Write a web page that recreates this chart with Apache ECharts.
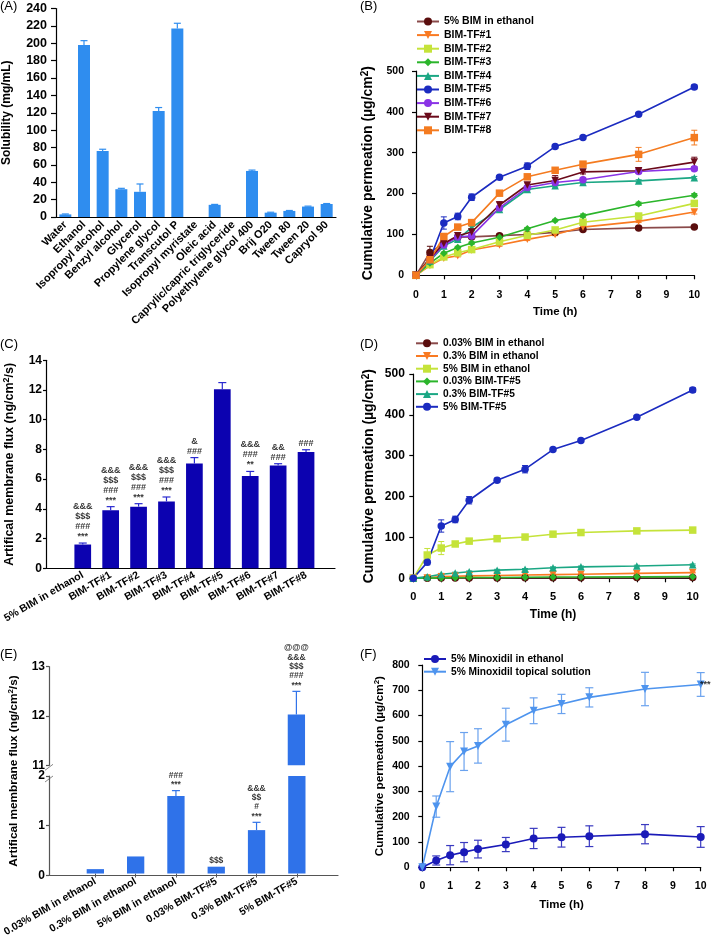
<!DOCTYPE html>
<html><head><meta charset="utf-8">
<script src="https://cdn.jsdelivr.net/npm/echarts@6/dist/echarts.min.js"></script>
<style>html,body{margin:0;padding:0;background:#fff}#c{width:720px;height:939px}</style>
</head><body><div id="c"></div><script>
// ---------- DATA ----------
// Panel A
const solventNames = ['Water','Ethanol','Isopropyl alcohol','Benzyl alcohol','Glycerol','Propylene glycol','Transcutol P','Isopropyl myristate','Oleic acid','Caprylic/capric triglyceride','Polyethylene glycol 400','Brij O20','Tween 80','Tween 20','Capryol 90'];
const solubility    = [3,198,76,32,29,122,217,0,14,0,53,5,7,12,15];
const solubilityErr = [0.5,5,2,1,9,4,6,0,0.5,0,1,0.5,0.5,0.5,0.5];
const solubilityTicks = [0,240,20];

// Panel B
const times = [0,0.5,1,1.5,2,3,4,5,6,8,10];
const bNames = ['5% BIM in ethanol','BIM-TF#1','BIM-TF#2','BIM-TF#3','BIM-TF#4','BIM-TF#5','BIM-TF#6','BIM-TF#7','BIM-TF#8'];
const bBimEth = [0,56,78,93,94,97,100,105,112,116,118];
const bTf1 = [0,24,42,48,62,74,88,100,118,132,155];
const bTf2 = [0,26,45,55,63,82,98,111,130,145,176];
const bTf3 = [0,30,54,68,79,93,114,134,146,175,196];
const bTf4 = [0,35,72,88,117,161,210,219,227,231,239];
const bTf5 = [0,39,128,144,191,240,267,315,337,394,461];
const bTf6 = [0,38,74,94,96,165,215,227,234,254,261];
const bTf7 = [0,42,78,97,106,172,221,232,253,256,277];
const bTf8 = [0,38,95,118,129,201,241,257,272,296,337];
const bErrBimEth = [0,15,4,4,3,4,3,3,4,4,3];
const bErrTf1 = [0,2,3,3,3,3,3,3,3,3,5];
const bErrTf2 = [0,2,3,3,3,3,3,3,3,3,4];
const bErrTf3 = [0,2,3,3,3,3,3,3,4,4,4];
const bErrTf4 = [0,2,3,3,3,3,3,3,3,3,3];
const bErrTf5 = [0,5,15,8,8,4,8,4,3,3,5];
const bErrTf6 = [0,3,3,3,3,4,4,4,4,5,5];
const bErrTf7 = [0,3,3,3,3,8,5,12,5,5,12];
const bErrTf8 = [0,4,4,4,4,4,5,5,5,17,18];

// Panel C
const cNames = ['5% BIM in ethanol','BIM-TF#1','BIM-TF#2','BIM-TF#3','BIM-TF#4','BIM-TF#5','BIM-TF#6','BIM-TF#7','BIM-TF#8'];
const cFlux = [1.6,3.9,4.15,4.5,7.05,12.05,6.22,6.92,7.83];
const cErr  = [0.1,0.25,0.2,0.3,0.4,0.45,0.3,0.12,0.15];
const cSig  = ['&&&\n$$$\n###\n***','&&&\n$$$\n###\n***','&&&\n$$$\n###\n***','&&&\n$$$\n###\n***','&\n###','','&&&\n###\n**','&&\n###','###'];

// Panel D
const dNames = ['0.03% BIM in ethanol','0.3% BIM in ethanol','5% BIM in ethanol','0.03% BIM-TF#5','0.3% BIM-TF#5','5% BIM-TF#5'];
const d003Eth = [0,0.3,0.5,0.6,0.8,1,1.2,1.4,1.5,1.7,2];
const d03Eth  = [0,1,4,5,6,7,8,9,10,12,14];
const d5Eth   = [0,57,74,84,91,97,101,108,112,116,118];
const d003Tf  = [0,0.5,1,1.5,2,2,2.5,3,3,3.5,4];
const d03Tf   = [0,4,10,13,16,20,22,26,28,30,33];
const d5Tf    = [0,39,128,144,191,240,267,315,337,394,461];
const dErr003Eth = [0,0.5,0.5,0.5,0.5,0.5,0.5,0.5,0.5,0.5,0.5];
const dErr03Eth  = [0,1,1,1,1,1,1,1,1,1,1];
const dErr5Eth   = [0,16,16,5,5,4,4,4,4,4,4];
const dErr003Tf  = [0,0.5,0.5,0.5,0.5,0.5,0.5,0.5,0.5,0.5,0.5];
const dErr03Tf   = [0,1,2,2,2,2,2,2,2,2,2];
const dErr5Tf    = [0,6,15,8,9,5,9,4,4,4,6];

// Panel E
const eNames = ['0.03% BIM in ethanol','0.3% BIM in ethanol','5% BIM in ethanol','0.03% BIM-TF#5','0.3% BIM-TF#5','5% BIM-TF#5'];
const eFlux = [0.09,0.35,1.59,0.14,0.89,12.03];
const eErr  = [0,0,0.11,0,0.16,0.47];
const eSig  = ['','','###\n***','$$$','&&&\n$$\n#\n***','@@@\n&&&\n$$$\n###\n***'];
const eLowTicks = [0,2,1];
const eHighTicks = [11,13,1];

// Panel F
const fNames = ['5% Minoxidil in ethanol','5% Minoxidil topical solution'];
const fEth = [0,27,48,60,72,90,114,119,123,131,120];
const fEthErr = [0,18,38,38,35,28,40,39,41,38,41];
const fTop = [0,240,398,458,480,564,619,646,672,705,723];
const fTopErr = [0,42,99,75,68,65,51,38,38,66,47];
const fSig = ['','','','','','','','','','','***'];

// ---------- STYLE / HELPERS ----------
const FONT = 'Arial, "Liberation Sans", Helvetica, sans-serif';
function lab(fs){ return {color:'#000', fontSize:fs, fontWeight:'bold', fontFamily:FONT}; }
function nameSt(fs){ return {color:'#000', fontSize:fs, fontWeight:'bold', fontFamily:FONT,
  rich:{sup:{fontSize:Math.round(fs*0.68), fontWeight:'bold', fontFamily:FONT, color:'#000', verticalAlign:'top', lineHeight:fs+2, padding:[0,0,Math.round(fs*0.4),0]},
        n:{fontSize:fs, fontWeight:'bold', fontFamily:FONT, color:'#000', lineHeight:fs+2}}}; }
const blk = {color:'#000', width:1.2};

const grids = [];
const xAxes = [];
const yAxes = [];
const series = [];
function addGrid(g){ grids.push(g); return grids.length-1; }

function valueX(gi, fs, opt){ xAxes.push(Object.assign({gridIndex:gi, type:'value', splitLine:{show:false}, axisLine:{show:true, lineStyle:blk}, axisTick:{show:true, length:4, lineStyle:blk}, axisLabel:Object.assign({margin:7}, lab(fs))}, opt)); return xAxes.length-1; }
function valueY(gi, fs, margin, tickLen, opt){ yAxes.push(Object.assign({gridIndex:gi, type:'value', splitLine:{show:false}, axisLine:{show:true, lineStyle:blk}, axisTick:{show:true, length:tickLen, lineStyle:blk}, axisLabel:Object.assign({margin}, lab(fs)), nameLocation:'middle'}, opt)); return yAxes.length-1; }
function hiddenX(gi, opt){ xAxes.push(Object.assign({gridIndex:gi, type:'value', show:false, min:0, max:1}, opt)); return xAxes.length-1; }
function hiddenY(gi, opt){ yAxes.push(Object.assign({gridIndex:gi, type:'value', show:false}, opt)); return yAxes.length-1; }

function errBars(xi, yi, xs, vals, errs, color, both, capW, lw, z){
  return {type:'custom', xAxisIndex:xi, yAxisIndex:yi, silent:true, z:z||2,
    data: vals.map((v,i)=>[xs[i], v, errs[i]]),
    renderItem(params, api){
      const x = api.value(0), y = api.value(1), e = api.value(2);
      if(!e) return null;
      const t = api.coord([x, y+e]);
      const b = api.coord([x, both ? y-e : y]);
      const h = capW/2;
      const st = {stroke:color, lineWidth:lw};
      const ch = [
        {type:'line', shape:{x1:t[0], y1:t[1], x2:b[0], y2:b[1]}, style:st},
        {type:'line', shape:{x1:t[0]-h, y1:t[1], x2:t[0]+h, y2:t[1]}, style:st}
      ];
      if(both) ch.push({type:'line', shape:{x1:b[0]-h, y1:b[1], x2:b[0]+h, y2:b[1]}, style:st});
      return {type:'group', children:ch};
    }};
}
function lineSeries(name, xi, yi, xs, vals, color, lineColor, symbol, rot, size){
  return {type:'line', name, xAxisIndex:xi, yAxisIndex:yi, data: vals.map((v,i)=>[xs[i], v]),
    symbol, symbolRotate:rot||0, symbolSize:size||7, showSymbol:true,
    lineStyle:{color:lineColor||color, width:1.6}, itemStyle:{color, borderWidth:0}, z:3};
}
function sigSeries(xi, yi, xs, tops, sigs, fs, lh, pos, dist){
  return {type:'scatter', xAxisIndex:xi, yAxisIndex:yi, silent:true, symbolSize:1, itemStyle:{color:'rgba(0,0,0,0)'}, z:5,
    data: tops.map((t,i)=> sigs[i] ? {value:[xs[i], t], label:{formatter:sigs[i]}} : null).filter(d=>d),
    label:{show:true, position:pos||'top', distance:dist==null?1:dist, color:'#000', fontSize:fs, fontWeight:'bold', fontFamily:FONT, lineHeight:lh, align:'center'}};
}

// ---------- PANEL A ----------
{
  const g = addGrid({left:56, top:8.5, width:280, height:208.5});
  const xi = xAxes.push({gridIndex:g, type:'category', data:solventNames, axisLine:{lineStyle:blk}, axisTick:{show:false},
    axisLabel:Object.assign({rotate:45, interval:0, margin:6}, lab(11))}) - 1;
  const yi = valueY(g, 12.5, 9, 5, {min:solubilityTicks[0], max:solubilityTicks[1], interval:solubilityTicks[2], name:'Solubility (mg/mL)', nameGap:43, nameTextStyle:nameSt(12)});
  series.push({type:'bar', xAxisIndex:xi, yAxisIndex:yi, data:solubility, barWidth:12, itemStyle:{color:'#2F8DEF'}, z:2});
  series.push(errBars(xi, yi, solventNames.map((_,i)=>i), solubility, solubilityErr, '#2F8DEF', false, 7, 1.2, 3));
}

// ---------- PANEL B ----------
{
  const g = addGrid({left:416, top:71, width:278.3, height:204.3});
  const xi = valueX(g, 10.5, {min:0, max:10, interval:1, offset:7, name:'Time (h)', nameLocation:'middle', nameGap:24, nameTextStyle:nameSt(11.5)});
  const yi = valueY(g, 10.5, 6, 4, {min:0, max:500, interval:100, offset:6, name:'Cumulative permeation (µg/cm{sup|2})', nameGap:34, nameTextStyle:nameSt(14)});
  const defs = [
    [bNames[0], bBimEth, bErrBimEth, '#5a0d0d', '#8a4a4a', 'circle', 0],
    [bNames[1], bTf1, bErrTf1, '#f97a22', null, 'triangle', 180],
    [bNames[2], bTf2, bErrTf2, '#c5e33a', null, 'rect', 0],
    [bNames[3], bTf3, bErrTf3, '#2bb52b', null, 'diamond', 0],
    [bNames[4], bTf4, bErrTf4, '#1ba784', null, 'triangle', 0],
    [bNames[5], bTf5, bErrTf5, '#1b2bc0', null, 'circle', 0],
    [bNames[6], bTf6, bErrTf6, '#8a33e6', null, 'circle', 0],
    [bNames[7], bTf7, bErrTf7, '#6b0a1a', null, 'triangle', 180],
    [bNames[8], bTf8, bErrTf8, '#f47b20', null, 'rect', 0]
  ];
  defs.forEach(d=>{
    series.push(errBars(xi, yi, times, d[1], d[2], d[3], true, 6, 1, 2));
    series.push(lineSeries('B:'+d[0], xi, yi, times, d[1], d[3], d[4], d[5], d[6], 7.5));
  });
}

// ---------- PANEL C ----------
{
  const ga = addGrid({left:46, top:360.3, width:289, height:208});
  const gb = addGrid({left:61.6, top:360.3, width:258.4, height:208});
  const xa = hiddenX(ga, {show:true, axisLine:{show:true, lineStyle:blk}, axisTick:{show:false}, axisLabel:{show:false}, splitLine:{show:false}});
  const ya = valueY(ga, 12, 4, 3, {min:0, max:14, interval:2, name:'{n|Artifical membrane flux (ng/cm}{sup|2}{n|/s)}', nameGap:29, nameTextStyle:nameSt(12.5)});
  const xb = xAxes.push({gridIndex:gb, type:'category', data:cNames, axisLine:{show:false}, axisTick:{show:false},
    axisLabel:Object.assign({rotate:30, interval:0, margin:6}, lab(10.5))}) - 1;
  const yb = hiddenY(gb, {min:0, max:14});
  const idx = cNames.map((_,i)=>i);
  series.push({type:'bar', xAxisIndex:xb, yAxisIndex:yb, data:cFlux, barWidth:16.7, itemStyle:{color:'#0c02b0'}, z:2});
  series.push(errBars(xb, yb, idx, cFlux, cErr, '#2a2ad0', false, 8, 1.2, 3));
  series.push(sigSeries(xb, yb, idx, cFlux.map((v,i)=>v+cErr[i]), cSig, 9, 10, 'top', 1));
}

// ---------- PANEL D ----------
{
  const g = addGrid({left:413.3, top:374, width:279.4, height:204.3});
  const xi = valueX(g, 11, {min:0, max:10, interval:1, offset:6, name:'Time (h)', nameLocation:'middle', nameGap:24, nameTextStyle:nameSt(12)});
  const yi = valueY(g, 12, 4.5, 4, {min:0, max:500, interval:100, offset:4, name:'Cumulative permeation (µg/cm{sup|2})', nameGap:32, nameTextStyle:nameSt(14)});
  const defs = [
    [dNames[0], d003Eth, dErr003Eth, '#5a0d0d', '#8a4a4a', 'circle', 0],
    [dNames[1], d03Eth, dErr03Eth, '#f97a22', null, 'triangle', 180],
    [dNames[2], d5Eth, dErr5Eth, '#c5e33a', null, 'rect', 0],
    [dNames[3], d003Tf, dErr003Tf, '#2bb52b', null, 'diamond', 0],
    [dNames[4], d03Tf, dErr03Tf, '#1ba784', null, 'triangle', 0],
    [dNames[5], d5Tf, dErr5Tf, '#1b2bc0', null, 'circle', 0]
  ];
  defs.forEach(d=>{
    series.push(errBars(xi, yi, times, d[1], d[2], d[3], true, 6, 1, 2));
    series.push(lineSeries('D:'+d[0], xi, yi, times, d[1], d[3], d[4], d[5], d[6], 7.5));
  });
}

// ---------- PANEL E (broken axis) ----------
const E = {axL:49, axW:289, barL:69.7, barW:247.3, hiTop:666.7, hiH:98.6, loTop:776, loH:99.3};
{
  const eColor = '#2f72e9';
  const grey = {color:'#555', width:1.2};
  const idx = eNames.map((_,i)=>i);
  const tops = eFlux.map((v,i)=>v+eErr[i]);
  // high segment
  const gha = addGrid({left:E.axL, top:E.hiTop, width:E.axW, height:E.hiH});
  const ghb = addGrid({left:E.barL, top:E.hiTop, width:E.barW, height:E.hiH});
  hiddenX(gha);
  valueY(gha, 12, 4, 3, {min:eHighTicks[0], max:eHighTicks[1], interval:eHighTicks[2], axisLine:{show:true, lineStyle:grey}, axisTick:{show:true,length:3,lineStyle:grey}});
  const xhb = xAxes.push({gridIndex:ghb, type:'category', data:eNames, show:false}) - 1;
  const yhb = hiddenY(ghb, {min:eHighTicks[0], max:eHighTicks[1]});
  series.push({type:'bar', xAxisIndex:xhb, yAxisIndex:yhb, data:eFlux.map(v=> v>eHighTicks[0] ? v : '-'), barWidth:17.3, itemStyle:{color:eColor}, clip:true, z:2});
  series.push(errBars(xhb, yhb, idx, eFlux.map(v=> v>eHighTicks[0] ? v : 0), eFlux.map((v,i)=> v>eHighTicks[0] ? eErr[i] : 0), eColor, false, 8, 1.2, 3));
  series.push(sigSeries(xhb, yhb, idx, tops, eSig.map((s,i)=> tops[i]>eHighTicks[0] ? s : ''), 8.5, 9.3, 'top', 1));
  // low segment
  const gla = addGrid({left:E.axL, top:E.loTop, width:E.axW, height:E.loH});
  const glb = addGrid({left:E.barL, top:E.loTop, width:E.barW, height:E.loH});
  hiddenX(gla, {show:true, axisLine:{show:true, lineStyle:grey}, axisTick:{show:false}, axisLabel:{show:false}, splitLine:{show:false}});
  valueY(gla, 12, 4, 3, {min:eLowTicks[0], max:eLowTicks[1], interval:eLowTicks[2], axisLine:{show:true, lineStyle:grey}, axisTick:{show:true,length:3,lineStyle:grey}});
  const xlb = xAxes.push({gridIndex:glb, type:'category', data:eNames, axisLine:{show:false}, axisTick:{show:true, alignWithLabel:true, length:4, lineStyle:{color:'#555'}},
    axisLabel:Object.assign({rotate:30, interval:0, margin:7}, lab(10.5))}) - 1;
  const ylb = hiddenY(glb, {min:eLowTicks[0], max:eLowTicks[1]});
  series.push({type:'bar', xAxisIndex:xlb, yAxisIndex:ylb, data:eFlux, barWidth:17.3, itemStyle:{color:eColor}, clip:true, z:2});
  series.push(errBars(xlb, ylb, idx, eFlux, eFlux.map((v,i)=> tops[i] <= eLowTicks[1] ? eErr[i] : 0), eColor, false, 8, 1.2, 3));
  series.push(sigSeries(xlb, ylb, idx, tops, eSig.map((s,i)=> tops[i] <= eLowTicks[1] ? s : ''), 8.5, 9.3, 'top', 1));
  // name-only axis spanning both segments
  const gn = addGrid({left:E.axL, top:E.hiTop, width:E.axW, height:E.loTop+E.loH-E.hiTop});
  hiddenX(gn);
  valueY(gn, 12, 4, 3, {min:0, max:1, axisLine:{show:false}, axisTick:{show:false}, axisLabel:{show:false}, name:'{n|Artifical membrane flux (ng/cm}{sup|2}{n|/s)}', nameGap:28, nameTextStyle:nameSt(11.8)});
}

// ---------- PANEL F ----------
{
  const g = addGrid({left:422.3, top:665, width:278.4, height:202.3});
  const xi = valueX(g, 10.5, {min:0, max:10, interval:1, offset:6, name:'Time (h)', nameLocation:'middle', nameGap:26, nameTextStyle:nameSt(11.5)});
  const yi = valueY(g, 10.5, 6, 4, {min:0, max:800, interval:100, offset:6.6, name:'Cumulative permeation (µg/cm{sup|2})', nameGap:29, nameTextStyle:nameSt(11.8)});
  series.push(errBars(xi, yi, times, fEth, fEthErr, '#3a3ac0', true, 8, 1.2, 2));
  series.push(errBars(xi, yi, times, fTop, fTopErr, '#6aa2ee', true, 8, 1.2, 2));
  series.push(lineSeries('F:'+fNames[0], xi, yi, times, fEth, '#1a1ab8', null, 'circle', 0, 8));
  series.push(lineSeries('F:'+fNames[1], xi, yi, times, fTop, '#4e94ee', null, 'triangle', 180, 8));
  series.push(sigSeries(xi, yi, times, fTop, fSig, 9, 10, 'right', 4));
}

// ---------- LEGENDS ----------
function legBase(fs){ return {orient:'vertical', itemWidth:22, itemHeight:10, padding:0, selectedMode:false,
  textStyle:{color:'#000', fontSize:fs, fontWeight:'bold', fontFamily:FONT}, formatter:n=>n.slice(2)}; }
const legends = [
  Object.assign(legBase(10.5), {left:416, top:16, itemGap:2.6, data:bNames.map(n=>'B:'+n)}),
  Object.assign(legBase(10.2), {left:415, top:338.3, itemGap:2.7, data:dNames.map(n=>'D:'+n)}),
  Object.assign(legBase(10.2), {left:423, top:654, itemGap:2.7, data:fNames.map(n=>'F:'+n)})
];

// ---------- PANEL LABELS ----------
const panelLabels = [['(A)',0,0],['(B)',360,0],['(C)',0,338],['(D)',360,338],['(E)',0,648],['(F)',360,648]];
const titles = panelLabels.map(p=>({text:p[0], left:p[1], top:p[2], padding:0, textStyle:{fontSize:13, fontWeight:'normal', color:'#000', fontFamily:FONT}}));

const chart = echarts.init(document.getElementById('c'), null, {renderer:'canvas'});
chart.setOption({
  animation:false, backgroundColor:'#fff',
  title:titles, legend:legends, grid:grids, xAxis:xAxes, yAxis:yAxes, series,
  graphic:[
    // axis-break marks for panel E
    {type:'group', children:[
      {type:'polygon', shape:{points:[[E.axL-4, E.hiTop+E.hiH+6],[E.axL+4, E.hiTop+E.hiH],[E.axL+4, E.loTop+1],[E.axL-4, E.loTop+7]]}, style:{fill:'#fff'}},
      {type:'line', shape:{x1:E.axL-4, y1:E.hiTop+E.hiH+5, x2:E.axL+4, y2:E.hiTop+E.hiH-1}, style:{stroke:'#888', lineWidth:1}},
      {type:'line', shape:{x1:E.axL-4, y1:E.loTop+6, x2:E.axL+4, y2:E.loTop}, style:{stroke:'#888', lineWidth:1}}
    ]}
  ]
});
</script></body></html>
